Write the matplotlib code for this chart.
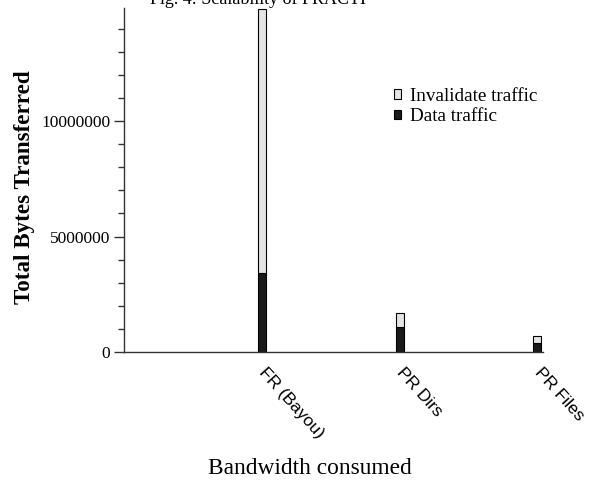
import matplotlib
matplotlib.use("Agg")
import matplotlib.pyplot as plt
from matplotlib.ticker import MultipleLocator, FixedLocator
from matplotlib.patches import Patch
import matplotlib.transforms as mtransforms

categories = ["FR (Bayou)", "PR Dirs", "PR Files"]
data_traffic = [3430000, 1070000, 380000]
invalidate_traffic = [11420000, 610000, 330000]
yticks = [0, 5000000, 10000000]
ytick_labels = ["0", "5000000", "10000000"]

W, H = 592, 483
fig = plt.figure(figsize=(W / 100, H / 100), dpi=100)
ax = fig.add_axes([124 / W, (H - 352) / H, (543 - 124) / W, (352 - 8) / H])

x = [1, 2, 3]
bw = 0.058
light = "#e4e4e4"
dark = "#1a1a1a"
ax.bar(x, data_traffic, width=bw, color=dark, edgecolor="black", linewidth=0.8)
ax.bar(x, invalidate_traffic, width=bw, bottom=data_traffic, color=light,
       edgecolor="black", linewidth=0.8)

ax.set_xlim(0, 3.04)
ax.set_ylim(0, 14900000)

for s in ["top", "right"]:
    ax.spines[s].set_visible(False)
for s in ["left", "bottom"]:
    ax.spines[s].set_color("#333333")
    ax.spines[s].set_linewidth(1.0)

ax.yaxis.set_major_locator(FixedLocator(yticks))
ax.set_yticklabels(ytick_labels, fontfamily="Liberation Serif", fontsize=12.5)
ax.yaxis.set_minor_locator(MultipleLocator(1000000))
ax.tick_params(axis="y", which="major", length=7, width=1, color="#333333", pad=3)
ax.tick_params(axis="y", which="minor", length=4, width=1, color="#333333")

ax.set_xticks(x)
ax.set_xticklabels(categories, fontfamily="Liberation Sans", fontsize=12.5,
                   rotation=-48, ha="left", va="top", rotation_mode="anchor")
ax.tick_params(axis="x", length=0, pad=9)
offset = mtransforms.ScaledTranslation(5 / 100, 0, fig.dpi_scale_trans)
for lab in ax.get_xticklabels():
    lab.set_transform(lab.get_transform() + offset)

ax.set_ylabel("Total Bytes Transferred", fontfamily="Liberation Serif",
              fontweight="bold", fontsize=16.6)
ax.yaxis.set_label_coords(-(124 - 35) / 419, (352 - 187) / 344)
ax.set_xlabel("Bandwidth consumed", fontfamily="Liberation Serif", fontsize=16.8)
ax.xaxis.set_label_coords((310 - 124) / 419, -(469 - 352) / 344)
ax.xaxis.label.set_va("center")

fig.text(258 / W, 1 - 4 / H, "Fig. 4: Scalability of PRACTI",
         fontfamily="Liberation Serif", fontsize=13, ha="center", va="baseline")

handles = [Patch(facecolor=light, edgecolor="black", linewidth=0.8, label="Invalidate traffic"),
           Patch(facecolor=dark, edgecolor="black", linewidth=0.8, label="Data traffic")]
leg = ax.legend(handles=handles, loc="upper left", bbox_to_anchor=(0.607, 0.812),
                frameon=False, handlelength=0.38, handleheight=0.38, handletextpad=0.45,
                labelspacing=0.18, borderpad=0.3,
                prop={"family": "Liberation Serif", "size": 13.8})

fig.savefig("out.png", dpi=100)
